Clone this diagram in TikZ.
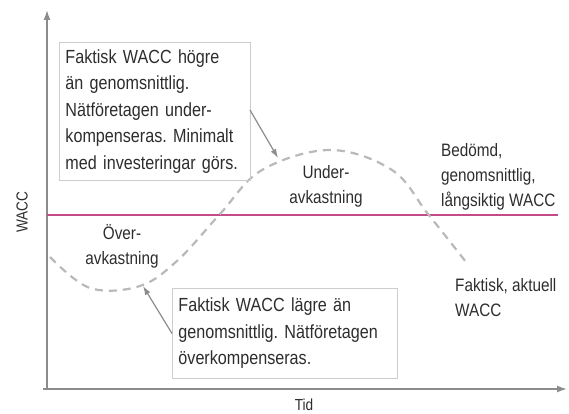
\documentclass[tikz,border=0pt]{standalone}
\usepackage{fontspec}
\setmainfont{Liberation Sans}[FakeStretch=0.85]
\usetikzlibrary{arrows.meta}
\definecolor{axisgray}{RGB}{140,140,140}
\definecolor{curvegray}{RGB}{185,185,185}
\definecolor{boxgray}{RGB}{205,205,205}
\definecolor{txt}{RGB}{45,45,45}
\definecolor{wacc}{RGB}{195,75,135}
\tikzset{
  axis/.style={draw=axisgray, line width=1.6pt, -{Latex[length=10pt,width=7pt]}},
  infobox/.style={draw=boxgray, line width=0.9pt, align=left, anchor=north west,
     inner xsep=6pt, text=txt, font=\fontsize{19}{26.5}\selectfont},
  lbl/.style={text=txt, font=\fontsize{18}{25}\selectfont, inner sep=0pt},
  callout/.style={draw=axisgray, line width=1.2pt, -{Latex[length=9pt,width=6pt]}},
  actual/.style={draw=curvegray, line width=2.2pt, dash pattern=on 8pt off 6pt},
}
\frenchspacing
\begin{document}
\begin{tikzpicture}[x=1pt,y=-1pt]
\useasboundingbox (0,0) rectangle (569,414);
% axes
\coordinate (origin) at (43,389);
\coordinate (ytop) at (47,10);
\coordinate (xend) at (567,389);
\draw[axis] (origin -| ytop) -- (ytop);
\draw[axis] (origin) -- (xend);
\node[lbl, font=\fontsize{16}{18}\selectfont, rotate=90] (ylab) at (22,212) {WACC};
\node[lbl, font=\fontsize{16}{18}\selectfont] (xlab) at (304,405) {Tid};
% average WACC line
\coordinate (wl) at (47,215);
\coordinate (wr) at (558,215);
\draw[draw=wacc, line width=1.8pt] (wl) -- (wr);
% actual WACC curve
\draw[actual] plot[smooth, tension=0.6] coordinates {(50,257) (90,288) (140,286) (178,260) (220,214) (262,170) (330,150) (392,170) (428,214) (466,262)};
% boxes
\node[infobox, minimum width=191pt, minimum height=138pt, text width=179pt] (box1) at (59,42)
  {Faktisk WACC högre\\ än genomsnittlig.\\ Nätföretagen under-\\ kompenseras. Minimalt\\ med investeringar görs.};
\node[infobox, minimum width=225pt, minimum height=90pt, text width=213pt] (box2) at (172,288)
  {Faktisk WACC lägre än\\ genomsnittlig. Nätföretagen\\ överkompenseras.};
% callouts
\coordinate (c1s) at (250,110);
\coordinate (c1e) at (278,158);
\coordinate (c2e) at (143,286);
\draw[callout] (c1s) -- (c1e);
\draw[callout] (box2.west) -- (c2e);
% labels
\node[lbl, align=center] (under) at (326,186) {Under-\\avkastning};
\node[lbl, align=center] (over) at (122,246) {Över-\\avkastning};
\node[lbl, align=left, anchor=north west] (bed) at (441,143) {Bedömd,\\genomsnittlig,\\långsiktig WACC};
\node[lbl, align=left, anchor=north west] (akt) at (455,278) {Faktisk, aktuell\\WACC};
\end{tikzpicture}
\end{document}
